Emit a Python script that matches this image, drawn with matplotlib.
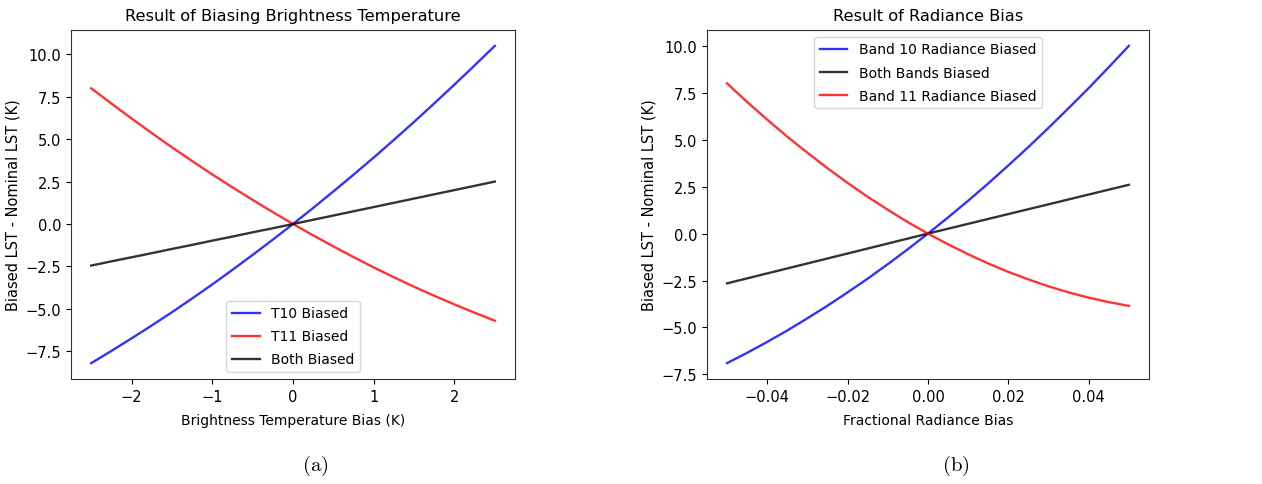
import matplotlib
matplotlib.use('Agg')
import matplotlib.pyplot as plt

# values
bt_bias = [-2.5, -2.25, -2.0, -1.75, -1.5, -1.25, -1.0, -0.75, -0.5, -0.25, 0.0,
           0.25, 0.5, 0.75, 1.0, 1.25, 1.5, 1.75, 2.0, 2.25, 2.5]
bt_t10 = [-8.2, -7.48, -6.74, -5.98, -5.2, -4.39, -3.56, -2.7, -1.82, -0.92, 0.0,
          0.95, 1.92, 2.91, 3.92, 4.96, 6.02, 7.11, 8.22, 9.35, 10.5]
bt_t11 = [8.0, 7.1, 6.22, 5.36, 4.52, 3.71, 2.92, 2.16, 1.42, 0.7, 0.0,
          -0.67, -1.32, -1.95, -2.56, -3.14, -3.7, -4.23, -4.74, -5.23, -5.7]
bt_both = [-2.45, -2.2, -1.96, -1.72, -1.47, -1.23, -0.98, -0.74, -0.49, -0.25, 0.0,
           0.25, 0.5, 0.75, 1.0, 1.25, 1.5, 1.75, 2.0, 2.25, 2.5]

rad_bias = [-0.05, -0.045, -0.04, -0.035, -0.03, -0.025, -0.02, -0.015, -0.01, -0.005, 0.0,
            0.005, 0.01, 0.015, 0.02, 0.025, 0.03, 0.035, 0.04, 0.045, 0.05]
rad_b10 = [-6.9, -6.35, -5.77, -5.16, -4.51, -3.84, -3.13, -2.4, -1.63, -0.83, 0.0,
           0.86, 1.75, 2.67, 3.63, 4.61, 5.63, 6.68, 7.75, 8.86, 10.0]
rad_both = [-2.65, -2.385, -2.12, -1.855, -1.59, -1.325, -1.06, -0.795, -0.53, -0.265, 0.0,
            0.26, 0.52, 0.78, 1.04, 1.3, 1.56, 1.82, 2.08, 2.34, 2.6]
rad_b11 = [8.0, 7.01, 6.07, 5.16, 4.31, 3.48, 2.7, 1.96, 1.27, 0.61, 0.0,
           -0.57, -1.1, -1.59, -2.04, -2.44, -2.81, -3.13, -3.41, -3.65, -3.85]

plt.rcParams['mathtext.fontset'] = 'cm'

fig = plt.figure(figsize=(12.62, 4.85), dpi=100)
ax1 = fig.add_axes([0.0563, 0.2165, 0.3518, 0.7196])
ax2 = fig.add_axes([0.5602, 0.2165, 0.3502, 0.7196])

ax1.plot(bt_bias, bt_t10, color='blue', alpha=0.8, lw=1.7, label='T10 Biased')
ax1.plot(bt_bias, bt_t11, color='red', alpha=0.8, lw=1.7, label='T11 Biased')
ax1.plot(bt_bias, bt_both, color='black', alpha=0.8, lw=1.7, label='Both Biased')
ax1.set_title('Result of Biasing Brightness Temperature', fontsize=11.7, pad=7)
ax1.set_xlabel('Brightness Temperature Bias (K)', fontsize=10, labelpad=7)
ax1.set_ylabel('Biased LST - Nominal LST (K)', fontsize=10.5)
ax1.legend(loc='lower center', fontsize=10, labelspacing=0.65)

ax2.plot(rad_bias, rad_b10, color='blue', alpha=0.8, lw=1.7, label='Band 10 Radiance Biased')
ax2.plot(rad_bias, rad_both, color='black', alpha=0.8, lw=1.7, label='Both Bands Biased')
ax2.plot(rad_bias, rad_b11, color='red', alpha=0.8, lw=1.7, label='Band 11 Radiance Biased')
ax2.set_title('Result of Radiance Bias', fontsize=11.7, pad=7)
ax2.set_xlabel('Fractional Radiance Bias', fontsize=10, labelpad=7)
ax2.set_ylabel('Biased LST - Nominal LST (K)', fontsize=10.5)
ax2.legend(loc='upper center', fontsize=10, labelspacing=0.65)

for ax in (ax1, ax2):
    ax.tick_params(labelsize=10.5)
    for s in ax.spines.values():
        s.set_color('#333333')

fig.text(0.2496, 0.04, r'$\mathrm{(a)}$', ha='center', va='center', fontsize=15)
fig.text(0.757, 0.04, r'$\mathrm{(b)}$', ha='center', va='center', fontsize=15)

fig.savefig('out.png', dpi=100)
